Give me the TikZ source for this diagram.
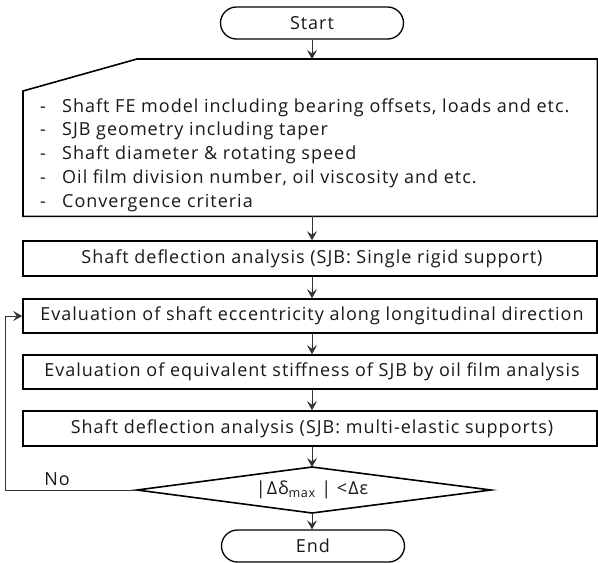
\documentclass[tikz,border=0pt]{standalone}
\usepackage{fontspec}
\setmainfont[LetterSpace=5.5]{Open Sans}
\usetikzlibrary{shapes.misc,arrows.meta}
\newcommand{\dashitem}{\makebox[22pt][l]{-}}
\begin{document}
\begin{tikzpicture}[x=1pt,y=-1pt,
  txt/.style={font=\fontsize{18}{22}\selectfont, text=black!90},
  term/.style={rounded rectangle, draw=black, line width=1.3pt, minimum width=183pt, minimum height=32pt, inner sep=0pt, txt},
  proc/.style={rectangle, draw=black, line width=1.6pt, minimum width=574pt, inner sep=0pt, txt},
  line/.style={txt, anchor=west, inner sep=0pt},
  conn/.style={draw=black!80, line width=1pt},
  arr/.style={conn, -{Stealth[length=9pt,width=10pt,inset=3.5pt]}}
]
\useasboundingbox (0,0) rectangle (598,563);
\fill[white] (0,0) rectangle (598,563);

% Start
\node[term] (start) at (312,23) {Start};

% input area (manual input)
\node[inner sep=0pt, minimum width=574pt, minimum height=157pt, anchor=north west] (inp) at (23,59) {};
\draw[black, line width=1.6pt] (inp.south west) -- ([yshift=-32pt]inp.north west) -- ([xshift=114pt]inp.north west) -- (inp.north east) -- (inp.south east) -- cycle;
\node[line] (l1) at (40,108) {\dashitem Shaft FE model including bearing offsets, loads and etc.};
\node[line] (l2) at (40,131) {\dashitem SJB geometry including taper};
\node[line] (l3) at (40,155) {\dashitem Shaft diameter \& rotating speed};
\node[line] (l4) at (40,179) {\dashitem Oil film division number, oil viscosity and etc.};
\node[line] (l5) at (40,203) {\dashitem Convergence criteria};

% process boxes
\node[proc, minimum height=35pt] (b1) at (310,258.5) {};
\node[txt] (t1) at (312,258.5) {Shaft deflection analysis (SJB: Single rigid support)};
\node[proc, minimum height=34pt] (b2) at (310,316) {};
\node[txt] (t2) at (312,316) {Evaluation of shaft eccentricity along longitudinal direction};
\node[proc, minimum height=34pt] (b3) at (310,372) {};
\node[txt] (t3) at (312,372) {Evaluation of equivalent stiffness of SJB by oil film analysis};
\node[proc, minimum height=35pt] (b4) at (310,428.5) {};
\node[txt] (t4) at (312,428.5) {Shaft deflection analysis (SJB: multi-elastic supports)};

% decision
\coordinate (dt) at (312,467);
\coordinate (dr) at (491,490);
\coordinate (db) at (312,513);
\coordinate (dl) at (137,490);
\draw[black, line width=1.6pt] (dt) -- (dr) -- (db) -- (dl) -- cycle;
\node[txt] (dec) at (312,490) {|Δδ\textsubscript{max} | <Δε};

% End
\node[term] (end) at (313,546) {End};

% connectors
\coordinate (ax) at (312,0);
\draw[arr] (start.south) -- (start.south |- inp.north);
\draw[arr] (inp.south -| ax) -- (b1.north -| ax);
\draw[arr] (b1.south -| ax) -- (b2.north -| ax);
\draw[arr] (b2.south -| ax) -- (b3.north -| ax);
\draw[arr] (b3.south -| ax) -- (b4.north -| ax);
\draw[arr] (b4.south -| ax) -- (dt);
\draw[arr] (db) -- (end.north -| ax);
\draw[arr] (dl) -- (5,490) |- (b2.west);
\node[txt] (no) at (57,479) {No};
\end{tikzpicture}
\end{document}
